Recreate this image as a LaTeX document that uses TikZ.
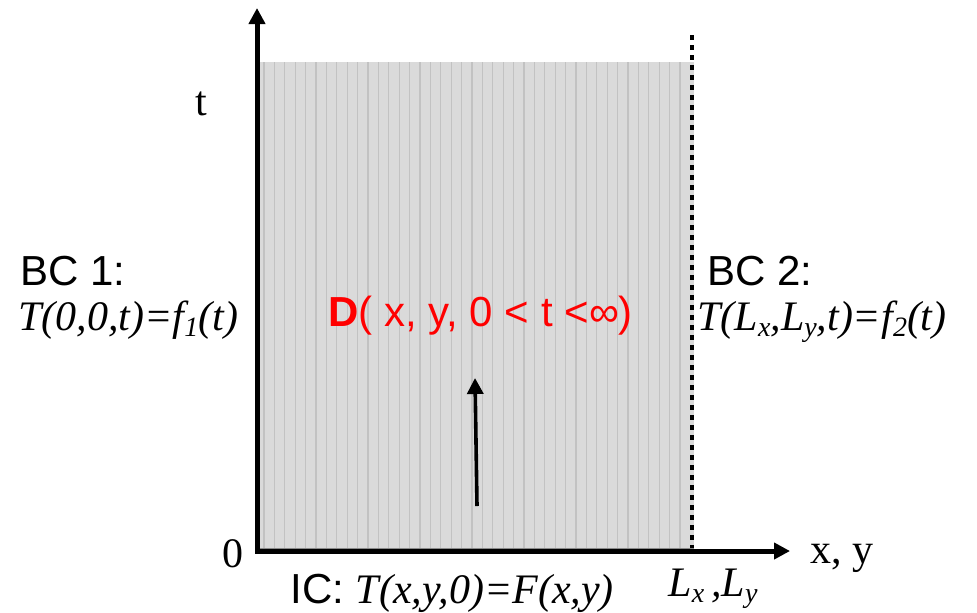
\documentclass[tikz,border=0pt]{standalone}
\usepackage{fontspec}
\setmainfont{Liberation Sans}
\newfontfamily\timesfont{Liberation Serif}
\usetikzlibrary{arrows.meta,calc}
\definecolor{domainc}{HTML}{DADADA}
\definecolor{stripec}{HTML}{C2C2C2}
\definecolor{edgec}{HTML}{8A8A8A}
\definecolor{redc}{HTML}{FF0000}

\newcommand{\lowsub}[1]{\raisebox{-0.35ex}{\fontsize{14}{16}\selectfont #1}}

\begin{document}
\begin{tikzpicture}[x=0.5pt, y=-0.5pt,
  axis/.style={line width=2.5pt, -{Triangle[length=8pt, width=8pt]}},
  lbl/.style={font=\fontsize{21}{25}\selectfont, inner sep=0pt, anchor=base west},
  tlbl/.style={font=\fontsize{21}{25}\selectfont\timesfont\itshape, inner sep=0pt, anchor=base west}]
  \useasboundingbox (0,0) rectangle (977,612);
  % domain
  \fill[domainc] (259,62) rectangle (694,549);
  \foreach \sx in {264,274.4,...,690} {
    \draw[stripec, line width=0.6pt] (\sx,62) -- (\sx,549);
  }
  \draw[edgec, line width=1pt] (259,548.5) -- (694,548.5);
  \draw[black, line width=2.3pt, dash pattern=on 2.3pt off 2.7pt] (692,35) -- (692,548);
  % axes
  \coordinate (origin) at (257,551);
  \coordinate (ttip) at (257,8);
  \coordinate (xtip) at (790,551);
  \draw[axis] ($(origin)+(0,2)$) -- (ttip);
  \draw[axis] ($(origin)+(-2,0)$) -- (xtip);
  % labels
  \node[lbl, font=\fontsize{21}{25}\selectfont\timesfont] (tlabel) at (195,115) {t};
  \node[lbl, font=\fontsize{21}{25}\selectfont\timesfont] (zero) at (222,567) {0};
  \node[lbl, font=\fontsize{21}{25}\selectfont\timesfont] (xylabel) at (810,563) {x, y};
  \node[lbl] (bc1) at (20,285) {BC 1:};
  \node[tlbl] (bc1eq) at (18,330) {T(0,0,t)=f\lowsub{1}(t)};
  \node[lbl] (bc2) at (707,285) {BC 2:};
  \node[tlbl] (bc2eq) at (697,330) {T(L\lowsub{x},L\lowsub{y},t)=f\lowsub{2}(t)};
  \node[lbl, text=redc] (domain) at (328,326) {\textbf{D}( x, y, 0 < t <∞)};
  \node[lbl] (ic) at (290,603) {IC: {\timesfont\itshape T(x,y,0)=F(x,y)}};
  \node[tlbl] (lxly) at (668,596) {L\lowsub{x}\,,L\lowsub{y}};
  % time direction
  \coordinate (arrstart) at (477,506);
  \coordinate (arrend) at (475,378);
  \draw[line width=1.8pt, -{Triangle[length=8pt, width=8pt]}] (arrstart) -- (arrend);
\end{tikzpicture}
\end{document}
